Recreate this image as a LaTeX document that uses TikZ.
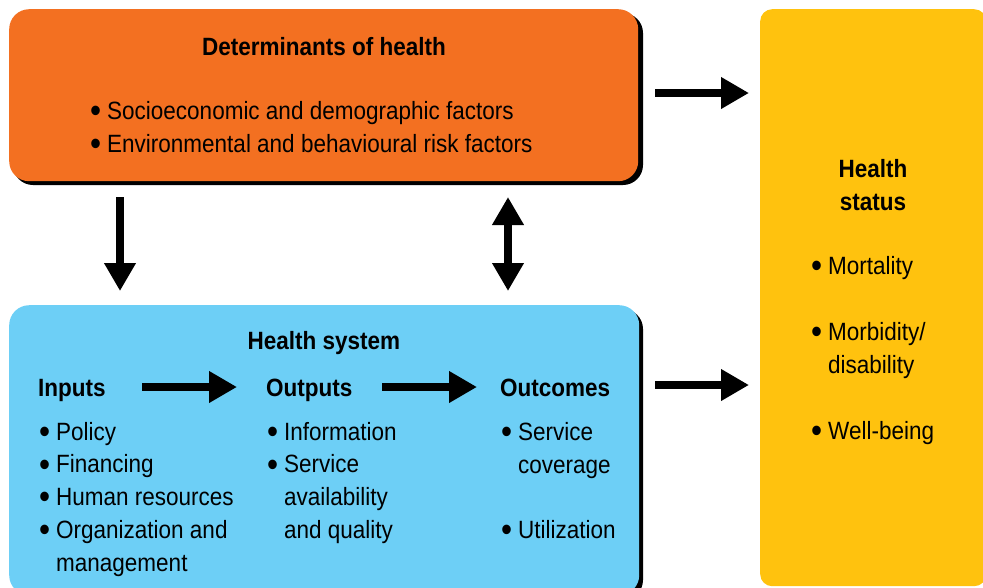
\documentclass[tikz,border=0pt]{standalone}
\usepackage{fontspec}
\usepackage{graphicx}
\setmainfont{Liberation Sans}[FakeStretch=0.9]
\usetikzlibrary{arrows.meta}
\definecolor{detorange}{HTML}{F37021}
\definecolor{hsblue}{HTML}{6DCFF6}
\definecolor{statyellow}{HTML}{FFC20E}
\newcommand{\bitem}{\makebox[17pt][l]{\raisebox{-3.3pt}{\scalebox{1.4}{•}}}}
\newcommand{\bind}{\hspace*{17pt}}
\tikzset{
  panel/.style={rounded corners=20pt, draw=none},
  shadowbox/.style={rounded corners=20pt, fill=black},
  txt/.style={inner sep=0pt, font=\fontsize{25}{33}\selectfont, anchor=base west},
  head/.style={txt, font=\fontsize{25}{33}\selectfont\bfseries},
  bigarrow/.style={line width=8pt, -{Triangle[width=30pt,length=28pt]}},
  dblarrow/.style={line width=8pt, {Triangle[width=30pt,length=28pt]}-{Triangle[width=30pt,length=28pt]}}
}
\begin{document}
\begin{tikzpicture}[x=1pt,y=-1pt]
\useasboundingbox (0,0) rectangle (983,587);
\clip (0,0) rectangle (983,587);
% boxes
\fill[shadowbox] (13,13) rectangle (643,185);
\node[panel, fill=detorange, minimum width=629pt, minimum height=172pt, anchor=north west] (det) at (9,9) {};
\fill[shadowbox] (13,309) rectangle (643,600);
\node[panel, fill=hsblue, minimum width=630pt, minimum height=290pt, anchor=north west] (hs) at (9,305) {};
\node[panel, rounded corners=12pt, fill=statyellow, minimum width=226pt, minimum height=577pt, anchor=north west] (status) at (760,9) {};
% determinants text
\node[head, anchor=base] (dettitle) at (324,55) {Determinants of health};
\node[txt] (det1) at (90,119) {\bitem Socioeconomic and demographic factors};
\node[txt] (det2) at (90,152) {\bitem Environmental and behavioural risk factors};
% health status text
\node[head, anchor=base] (st1) at (873,177) {Health};
\node[head, anchor=base] (st2) at (873,210) {status};
\node[txt] (s1) at (811,274) {\bitem Mortality};
\node[txt] (s2) at (811,340) {\bitem Morbidity/};
\node[txt] (s3) at (811,373) {\bind disability};
\node[txt] (s4) at (811,439) {\bitem Well-being};
% health system text
\node[head, anchor=base] (hstitle) at (324,349) {Health system};
\node[head] (inp) at (38,396) {Inputs};
\node[head] (outp) at (266,396) {Outputs};
\node[head] (outc) at (500,396) {Outcomes};
\foreach \t [count=\k] in {\bitem Policy, \bitem Financing, \bitem Human resources, \bitem Organization and, \bind management}
  \node[txt] (i\k) at (39,{440+32.8*(\k-1)}) {\t};
\foreach \t [count=\k] in {\bitem Information, \bitem Service, \bind availability, \bind and quality}
  \node[txt] (o\k) at (267,{440+32.8*(\k-1)}) {\t};
\node[txt] (c1) at (501,440) {\bitem Service};
\node[txt] (c2) at (501,473) {\bind coverage};
\node[txt] (c3) at (501,538) {\bitem Utilization};
% arrows
\coordinate (a1s) at (655,93); \coordinate (a1e) at (749,93);
\draw[bigarrow] (a1s) -- (a1e);
\coordinate (a2s) at (655,385); \coordinate (a2e) at (749,385);
\draw[bigarrow] (a2s) -- (a2e);
\coordinate (a3s) at (120,197); \coordinate (a3e) at (120,291);
\draw[bigarrow] (a3s) -- (a3e);
\coordinate (a4s) at (508,197); \coordinate (a4e) at (508,291);
\draw[dblarrow] (a4s) -- (a4e);
\coordinate (a5s) at (142,387); \coordinate (a5e) at (237,387);
\draw[bigarrow] (a5s) -- (a5e);
\coordinate (a6s) at (382,387); \coordinate (a6e) at (477,387);
\draw[bigarrow] (a6s) -- (a6e);
\end{tikzpicture}
\end{document}
